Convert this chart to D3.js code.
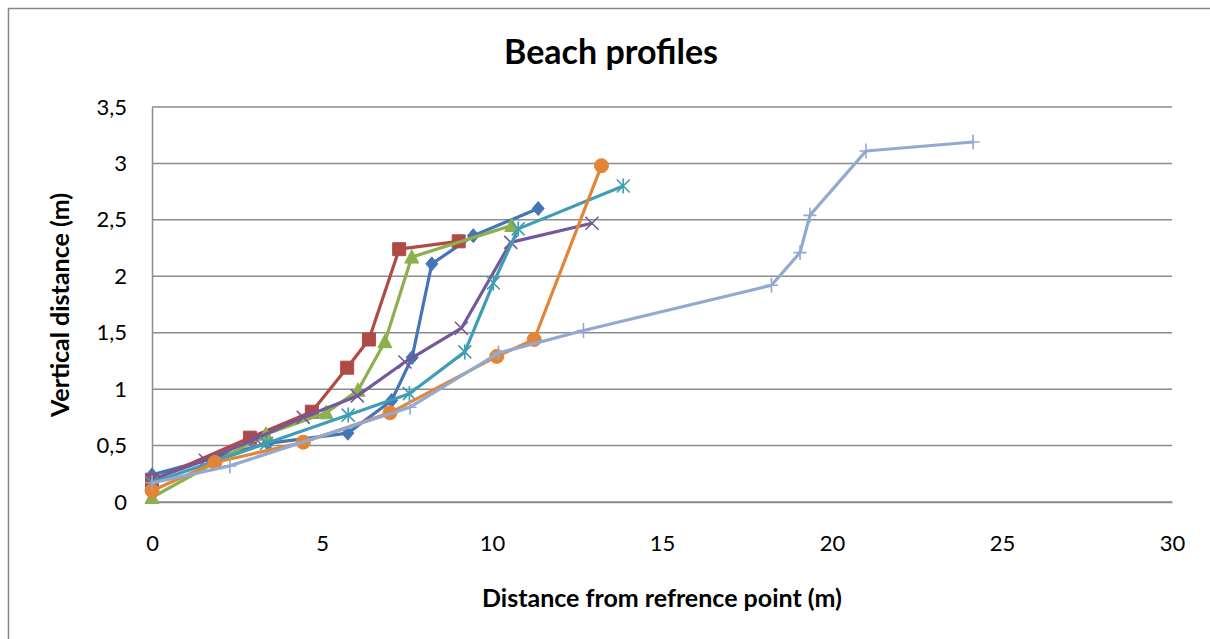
<!DOCTYPE html>
<html>
<head>
<meta charset="utf-8">
<script src="https://cdn.jsdelivr.net/npm/d3@7"></script>
<style>
  body { margin: 0; background: #fff; }
  svg { display: block; font-family: Lato, "Liberation Sans", sans-serif; }
  .tick text { font-size: 22px; fill: #000; }
</style>
</head>
<body>
<svg width="1210" height="639"></svg>
<script>
// Profile data: [distance (m), height (m)] for every profile
const profile1 = [[0, 0.24], [3.4, 0.52], [5.76, 0.61], [7.05, 0.9], [7.65, 1.28], [8.23, 2.11], [9.45, 2.36], [11.36, 2.6]];
const profile2 = [[0, 0.19], [2.88, 0.57], [4.7, 0.8], [5.74, 1.19], [6.38, 1.44], [7.27, 2.24], [9.02, 2.31]];
const profile3 = [[0, 0.04], [3.35, 0.6], [5.12, 0.79], [6.06, 0.99], [6.85, 1.42], [7.64, 2.17], [10.58, 2.45]];
const profile4 = [[0, 0.2], [1.57, 0.37], [3.05, 0.56], [4.45, 0.75], [6.04, 0.94], [7.44, 1.24], [9.1, 1.54], [10.55, 2.3], [12.94, 2.47]];
const profile5 = [[0, 0.17], [3.37, 0.52], [5.77, 0.77], [7.57, 0.96], [9.2, 1.33], [10.04, 1.94], [10.77, 2.42], [13.86, 2.8]];
const profile6 = [[0, 0.1], [1.85, 0.35], [4.45, 0.53], [7.0, 0.79], [10.14, 1.29], [11.24, 1.44], [13.22, 2.98]];
const profile7 = [[0, 0.17], [2.29, 0.32], [7.59, 0.84], [10.19, 1.32], [12.69, 1.52], [18.22, 1.92], [19.06, 2.21], [19.35, 2.54], [21.0, 3.11], [24.15, 3.19]];

const xTicks = [0, 5, 10, 15, 20, 25, 30];
const yTicks = [0, 0.5, 1, 1.5, 2, 2.5, 3, 3.5];

const series = [
  { data: profile1, color: "#4675b5", marker: "diamond" },
  { data: profile2, color: "#b04a47", marker: "square" },
  { data: profile3, color: "#8db04f", marker: "triangle" },
  { data: profile4, color: "#74599a", marker: "cross" },
  { data: profile5, color: "#3f9db5", marker: "star" },
  { data: profile6, color: "#e38536", marker: "circle" },
  { data: profile7, color: "#93a9d0", marker: "plus" }
];

const svg = d3.select("svg");
const plotLeft = 152, plotRight = 1172, plotTop = 107, plotBottom = 502;

// chart border
svg.append("rect")
  .attr("x", 8.5).attr("y", 8.5)
  .attr("width", 1220).attr("height", 650)
  .attr("fill", "#fff")
  .attr("stroke", "#868686")
  .attr("stroke-width", 1.5);

const xScale = d3.scaleLinear().domain([0, 30]).range([plotLeft, plotRight]);
const yScale = d3.scaleLinear().domain([0, 3.5]).range([plotBottom, plotTop]);

// horizontal gridlines
svg.append("g")
  .selectAll("line")
  .data(yTicks)
  .join("line")
  .attr("x1", plotLeft).attr("x2", plotRight)
  .attr("y1", d => yScale(d)).attr("y2", d => yScale(d))
  .attr("stroke", "#8c8c8c")
  .attr("stroke-width", 1.5);

// axes
const fmt = d => String(d).replace(".", ",");
svg.append("g")
  .attr("transform", `translate(0, ${plotBottom})`)
  .call(d3.axisBottom(xScale).tickValues(xTicks).tickSize(0).tickPadding(33).tickFormat(fmt))
  .call(g => g.select(".domain").attr("stroke", "#8c8c8c").attr("stroke-width", 1.5));

svg.append("g")
  .attr("transform", `translate(${plotLeft}, 0)`)
  .call(d3.axisLeft(yScale).tickValues(yTicks).tickSize(0).tickPadding(25).tickFormat(fmt))
  .call(g => g.select(".domain").attr("stroke", "#8c8c8c").attr("stroke-width", 1.5));

svg.selectAll(".tick text").attr("font-family", "Lato, sans-serif");

// marker shapes
const markerPath = (type) => {
  switch (type) {
    case "diamond": return "M0,-7L6,0L0,7L-6,0Z";
    case "square": return "M-6.5,-6.5H6.5V6.5H-6.5Z";
    case "triangle": return "M0,-7.5L7,6H-7Z";
    case "cross": return "M-6.5,-6.5L6.5,6.5M6.5,-6.5L-6.5,6.5";
    case "star": return "M-6.5,-6.5L6.5,6.5M6.5,-6.5L-6.5,6.5M0,-7.5V7.5";
    case "circle": return "M7,0A7,7 0 1,1 -7,0A7,7 0 1,1 7,0Z";
    case "plus": return "M0,-7.5V7.5M-6.5,0H6.5";
  }
};
const openMarker = t => t === "cross" || t === "star" || t === "plus";

const line = d3.line().x(d => xScale(d[0])).y(d => yScale(d[1]));

series.forEach(s => {
  const g = svg.append("g");
  g.append("path")
    .attr("d", line(s.data))
    .attr("fill", "none")
    .attr("stroke", s.color)
    .attr("stroke-width", 3.2)
    .attr("stroke-linejoin", "round");
  g.selectAll("path.mark")
    .data(s.data)
    .join("path")
    .attr("class", "mark")
    .attr("transform", d => `translate(${xScale(d[0])}, ${yScale(d[1])})`)
    .attr("d", markerPath(s.marker))
    .attr("fill", openMarker(s.marker) ? "none" : s.color)
    .attr("stroke", s.color)
    .attr("stroke-width", openMarker(s.marker) ? 1.6 : 1);
});

// titles
svg.append("text")
  .attr("x", 611).attr("y", 64)
  .attr("text-anchor", "middle")
  .attr("font-size", 34)
  .attr("font-weight", "bold")
  .text("Beach profiles");

svg.append("text")
  .attr("x", 662).attr("y", 607)
  .attr("text-anchor", "middle")
  .attr("font-size", 25)
  .attr("font-weight", "bold")
  .text("Distance from refrence point (m)");

svg.append("text")
  .attr("transform", "rotate(-90)")
  .attr("x", -305).attr("y", 69)
  .attr("text-anchor", "middle")
  .attr("font-size", 25)
  .attr("font-weight", "bold")
  .text("Vertical distance (m)");
</script>
</body>
</html>
